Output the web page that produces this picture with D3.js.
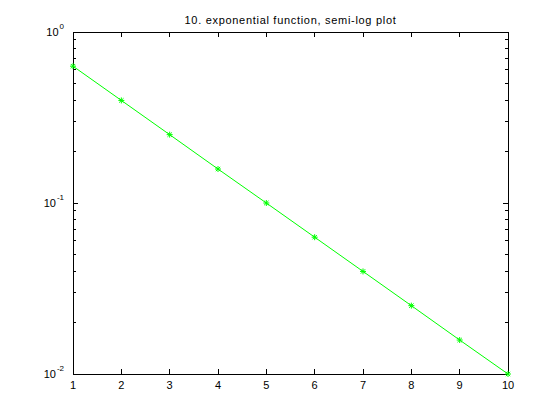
<!DOCTYPE html>
<html>
<head>
<meta charset="UTF-8">
<script src="https://d3js.org/d3.v7.min.js"></script>
<style>
  body { margin: 0; background: #fff; }
  text { font-family: "Liberation Sans", Arial, sans-serif; font-size: 11px; fill: #000; }
</style>
</head>
<body>
<div class="canvas"></div>
<script>
  const titleText = '10. exponential function, semi-log plot'
  const xs = [1, 2, 3, 4, 5, 6, 7, 8, 9, 10]
  const ys = [0.631, 0.398, 0.251, 0.158, 0.1, 0.0631, 0.0398, 0.0251, 0.0158, 0.01]
  const xTicks = [1, 2, 3, 4, 5, 6, 7, 8, 9, 10]
  const yTicks = [0.01, 0.1, 1]
  const yExps = ['-2', '-1', '0']

  const W = 560, H = 420
  const margin = {top: 32, right: 52, bottom: 46, left: 73}

  const svg = d3.select('.canvas').append('svg')
    .attr('width', W).attr('height', H)

  svg.append('rect').attr('width', W).attr('height', H).attr('fill', '#fff')

  const x = d3.scaleLinear().domain([1, 10]).range([margin.left, W - margin.right])
  const y = d3.scaleLog().domain([0.01, 1]).range([H - margin.bottom, margin.top])

  const x0 = x.range()[0], x1 = x.range()[1]
  const y0 = y.range()[0], y1 = y.range()[1]

  const axes = svg.append('g').attr('stroke', '#000').attr('stroke-width', 1).attr('shape-rendering', 'crispEdges')

  // box
  axes.append('rect').attr('x', x0).attr('y', y1).attr('width', x1 - x0).attr('height', y0 - y1).attr('fill', 'none')

  // x ticks, bottom and top
  xTicks.forEach(t => {
    axes.append('line').attr('x1', x(t)).attr('x2', x(t)).attr('y1', y0).attr('y2', y0 - 5)
    axes.append('line').attr('x1', x(t)).attr('x2', x(t)).attr('y1', y1).attr('y2', y1 + 5)
  })

  // y ticks, major and minor, left and right
  y.ticks().forEach(t => {
    const major = yTicks.includes(t)
    const len = major ? 5 : 3
    axes.append('line').attr('x1', x0).attr('x2', x0 + len).attr('y1', y(t)).attr('y2', y(t))
    axes.append('line').attr('x1', x1).attr('x2', x1 - len).attr('y1', y(t)).attr('y2', y(t))
  })

  // x labels
  svg.selectAll('.xl').data(xTicks).enter().append('text')
    .attr('x', d => x(d)).attr('y', y0 + 15)
    .attr('text-anchor', 'middle')
    .text(d => d)

  // y labels 10^k, right-aligned as a whole
  yTicks.forEach((t, i) => {
    const lab = svg.append('text').attr('x', x0 - 9).attr('y', y(t) + 4).attr('text-anchor', 'end')
    lab.append('tspan').text('10')
    lab.append('tspan').attr('dx', 1).attr('dy', -7).style('font-size', '8px').text(yExps[i])
  })

  // title
  svg.append('text').attr('x', (x0 + x1) / 2).attr('y', 24).attr('text-anchor', 'middle')
    .style('letter-spacing', '0.7px')
    .text(titleText)

  // line
  const pts = xs.map((d, i) => [d, ys[i]])
  svg.append('path').datum(pts)
    .attr('fill', 'none').attr('stroke', '#00ff00').attr('stroke-width', 1)
    .attr('d', d3.line().x(d => x(d[0])).y(d => y(d[1])))

  // asterisk markers
  const star = 'M-3,0H3M0,-3V3M-2.2,-2.2L2.2,2.2M-2.2,2.2L2.2,-2.2'
  svg.selectAll('.m').data(pts).enter().append('path')
    .attr('transform', d => `translate(${x(d[0])},${y(d[1])})`)
    .attr('d', star)
    .attr('stroke', '#00ff00').attr('stroke-width', 1).attr('fill', 'none')
</script>
</body>
</html>
